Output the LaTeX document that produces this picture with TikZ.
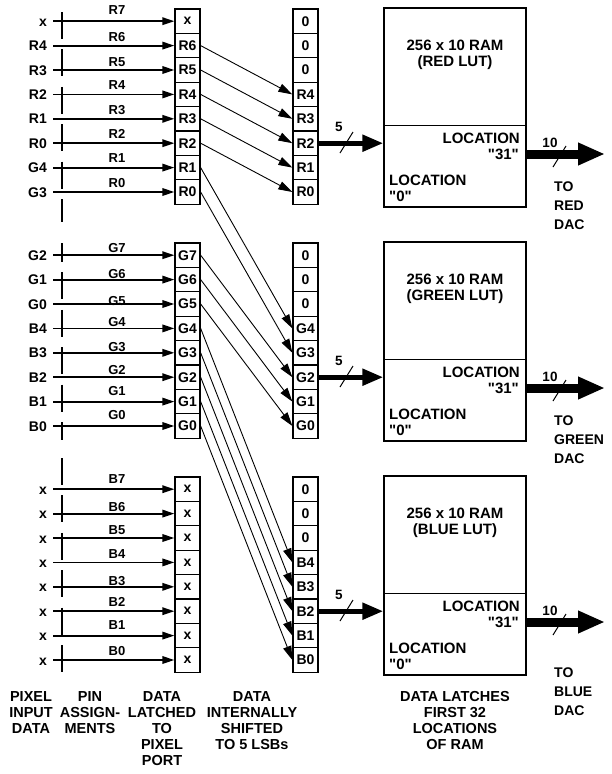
\documentclass[tikz,border=0pt]{standalone}
\usepackage{fontspec}
\setmainfont{Liberation Sans}[Ligatures=TeXOff]
\usetikzlibrary{arrows.meta}
\newcommand\fsCell{\fontsize{14}{16}\selectfont\bfseries}
\newcommand\fsPin{\fontsize{13}{15}\selectfont\bfseries}
\newcommand\fsRam{\fontsize{15}{16}\selectfont\bfseries}
\newcommand\fsBot{\fontsize{14.5}{16}\selectfont\bfseries}
\newcommand\fsDac{\fontsize{14}{19}\selectfont\bfseries}
\newcommand\mygroup[8]{%
  % #1 id, #2 y0, #3 left labels, #4 pin labels/offsets, #5 col1, #6 col2, #7 colour word, #8 TO baseline
  \foreach \t [count=\i from 0] in {#5} {
    \pgfmathsetmacro\yy{#2+12.2+24.4*\i}
    \node[cell] (c1-#1-\i) at (187.5,\yy) {\t};
  }
  \foreach \t [count=\i from 0] in {#6} {
    \pgfmathsetmacro\yy{#2+12.2+24.4*\i}
    \node[cell] (c2-#1-\i) at (305.5,\yy) {\t};
  }
  \foreach \t [count=\i from 0] in {#3} {
    \pgfmathsetmacro\yy{#2+12.2+24.4*\i}
    \node[leftlab] (lab-#1-\i) at (47,\yy+5) {\t};
    \coordinate (in-#1-\i) at (53,\yy);
    \draw[inarrow] (in-#1-\i) -- (c1-#1-\i.west);
  }
  \foreach \t/\o [count=\i from 0] in {#4} {
    \pgfmathsetmacro\yy{#2+12.2+24.4*\i-\o}
    \node[pinlab] (pin-#1-\i) at (117,\yy) {\t};
  }
  \node[rambox] (ram-#1) at (455,#2+98.5) {};
  \coordinate (dl-#1) at (384,#2+116);
  \coordinate (dr-#1) at (526,#2+116);
  \draw[divider] (dl-#1) -- (dr-#1);
  \node[ramtxt, anchor=base] (t1-#1) at (455,#2+41) {256 x 10 RAM};
  \node[ramtxt, anchor=base] (t2-#1) at (455,#2+57) {(#7 LUT)};
  \node[ramtxt, anchor=base east] (t3-#1) at (520,#2+134) {LOCATION};
  \node[ramtxt, anchor=base east] (t4-#1) at (519,#2+150) {"31"};
  \node[ramtxt, anchor=base west] (t5-#1) at (389,#2+176) {LOCATION};
  \node[ramtxt, anchor=base west] (t6-#1) at (389,#2+192) {"0"};
  \draw[busin] (c2-#1-5.east) -- (c2-#1-5.east -| ram-#1.west);
  \coordinate (out-#1) at (605,#2+145);
  \draw[busout] (ram-#1.east |- out-#1) -- (out-#1);
  \coordinate (sa-#1) at (340,#2+144);
  \coordinate (sb-#1) at (353,#2+123);
  \draw[slash] (sa-#1) -- (sb-#1);
  \coordinate (sc-#1) at (553,#2+158);
  \coordinate (sd-#1) at (566,#2+137);
  \draw[slash] (sc-#1) -- (sd-#1);
  \node[buslab] (n5-#1) at (339,#2+122) {5};
  \node[buslab] (n10-#1) at (550,#2+138) {10};
  \node[daclab] (dac-#1) at (554,#8-10) {TO\\#7\\DAC};
}
\begin{document}
\begin{tikzpicture}[x=1pt,y=-1pt,
  cell/.style={draw, line width=1.3pt, minimum width=25pt, minimum height=24.4pt, inner sep=0pt, font=\fsCell},
  leftlab/.style={anchor=base east, inner sep=0pt, font=\fsCell},
  pinlab/.style={anchor=base, inner sep=0pt, font=\fsPin},
  inarrow/.style={line width=1.8pt, -{Triangle[length=12pt,width=7.5pt]}},
  diag/.style={line width=0.9pt, -{Triangle[length=14pt,width=8.5pt]}},
  rambox/.style={draw, line width=1.3pt, minimum width=142pt, minimum height=199pt, inner sep=0pt},
  divider/.style={line width=0.9pt},
  ramtxt/.style={inner sep=0pt, font=\fsRam},
  busin/.style={line width=5pt, -{Triangle[length=21pt,width=16pt]}},
  busout/.style={line width=9pt, -{Triangle[length=27pt,width=21pt]}},
  slash/.style={line width=1pt},
  buslab/.style={anchor=base, inner sep=0pt, font=\fontsize{13.5}{15}\selectfont\bfseries},
  daclab/.style={anchor=north west, align=left, inner sep=0pt, font=\fsDac},
  botlab/.style={anchor=north, align=center, inner sep=0pt, font=\fsBot},
  dashline/.style={line width=1.1pt}
]
\useasboundingbox (0,0) rectangle (612,774);
\fill[white] (0,0) rectangle (612,774);

\mygroup{r}{9}{x,R4,R3,R2,R1,R0,G4,G3}{R7/7,R6/4,R5/4,R4/5,R3/4,R2/5,R1/5,R0/5}{x,R6,R5,R4,R3,R2,R1,R0}{0,0,0,R4,R3,R2,R1,R0}{RED}{192}
\mygroup{g}{243}{G2,G1,G0,B4,B3,B2,B1,B0}{G7/2.3,G6/1,G5/-1,G4/2.3,G3/1,G2/2.7,G1/6.5,G0/6.5}{G7,G6,G5,G4,G3,G2,G1,G0}{0,0,0,G4,G3,G2,G1,G0}{GREEN}{426}
\mygroup{b}{477}{x,x,x,x,x,x,x,x}{B7/5.5,B6/1.7,B5/3.3,B4/4.3,B3/1.5,B2/5,B1/6.5,B0/5}{x,x,x,x,x,x,x,x}{0,0,0,B4,B3,B2,B1,B0}{BLUE}{678}

% pin boundary lines
\coordinate (pr1) at (62,12);  \coordinate (pr2) at (62,222);
\coordinate (pg1) at (62,243); \coordinate (pg2) at (62,440);
\coordinate (pb1) at (62,458); \coordinate (pb2) at (62,672);
\draw[dashline, dash pattern=on 27pt off 10.4pt] (pr1) -- (pr2);
\draw[dashline, dash pattern=on 27pt off 10.4pt, dash phase=8pt] (pg1) -- (pg2);
\draw[dashline, dash pattern=on 27pt off 10.4pt] (pb1) -- (pb2);

% internal shifts
\foreach \a/\b in {1/3,2/4,3/5,4/6,5/7} \draw[diag] (c1-r-\a.east) -- (c2-r-\b.west);
\draw[diag] (c1-r-6.east) -- (c2-g-3.west);
\draw[diag] (c1-r-7.east) -- (c2-g-4.west);
\foreach \a/\b in {0/5,1/6,2/7} \draw[diag] (c1-g-\a.east) -- (c2-g-\b.west);
\foreach \a in {3,4,5,6,7} \draw[diag] (c1-g-\a.east) -- (c2-b-\a.west);

% bottom captions
\node[botlab] (cap1) at (31,691.6) {PIXEL\\INPUT\\DATA};
\node[botlab] (cap2) at (90,691.6) {PIN\\ASSIGN-\\MENTS};
\node[botlab] (cap3) at (162,691.6) {DATA\\LATCHED\\TO\\PIXEL\\PORT};
\node[botlab] (cap4) at (252,691.6) {DATA\\INTERNALLY\\SHIFTED\\TO 5 LSBs};
\node[botlab] (cap5) at (455,691.6) {DATA LATCHES\\FIRST 32\\LOCATIONS\\OF RAM};
\end{tikzpicture}
\end{document}
